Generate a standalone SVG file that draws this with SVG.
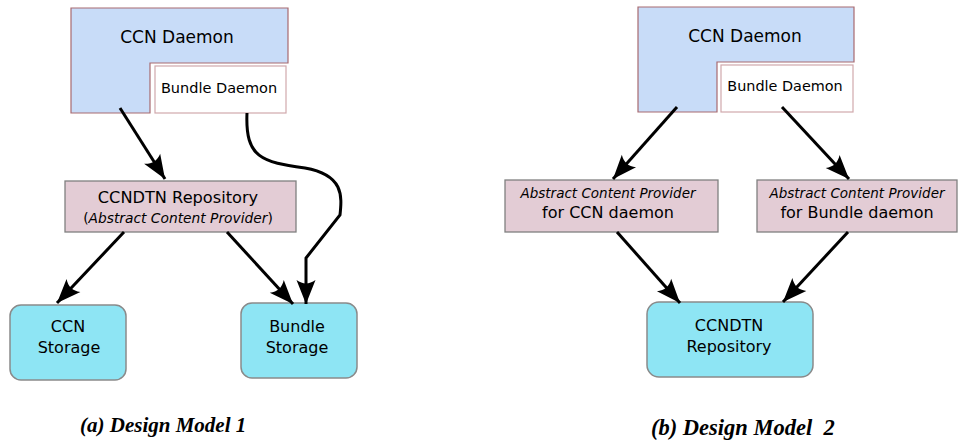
<svg xmlns="http://www.w3.org/2000/svg" width="959" height="445" viewBox="0 0 959 445">
<style>
.daemon{fill:#c8dcf8;stroke:#a86a70;stroke-width:1.2}
.bundle{fill:#ffffff;stroke:#d0a8ac;stroke-width:1.2}
.prov{fill:#e3ccd5;stroke:#808080;stroke-width:1.3}
.store{fill:#8ee5f4;stroke:#8a8a8a;stroke-width:1.5}
text{font-family:"DejaVu Sans",sans-serif;fill:#000;text-anchor:middle}
.cap{font-family:"Liberation Serif",serif;font-weight:bold;font-style:italic;font-size:21px;text-anchor:start;white-space:pre}
.it{font-style:italic}
.conn path{fill:none;stroke:#000;stroke-width:3;marker-end:url(#ah)}
</style>
<defs>
<marker id="ah" markerUnits="userSpaceOnUse" markerWidth="30" markerHeight="30" viewBox="-27 -13 30 26" refX="0" refY="0" orient="auto" overflow="visible">
<path d="M0,0 L-24,-9.5 C-19.5,-3 -19.5,3 -24,9.5 Z" fill="#000"/>
</marker>
</defs>
<g id="a-ccn-daemon"><polygon class="daemon" points="71,8 288,8 288,63 150,63 150,113 71,113"/><text x="177" y="43" font-size="17">CCN Daemon</text></g>
<g id="a-bundle-daemon"><rect class="bundle" x="155" y="66" width="131" height="47"/><text x="219" y="93" font-size="14.5">Bundle Daemon</text></g>
<g id="a-repo"><rect class="prov" x="65" y="181" width="231" height="51"/><text x="178" y="203" font-size="16.2">CCNDTN Repository</text><text x="178" y="223" font-size="13.8">(<tspan class="it">Abstract Content Provider</tspan>)</text></g>
<g id="a-ccn-storage"><rect class="store" x="10" y="305" width="116" height="75" rx="11"/><text x="68" y="332" font-size="16">CCN</text><text x="69" y="353" font-size="16">Storage</text></g>
<g id="a-bundle-storage"><rect class="store" x="241" y="303" width="116" height="75" rx="11"/><text x="297" y="332" font-size="16">Bundle</text><text x="297" y="353" font-size="16">Storage</text></g>
<g id="b-ccn-daemon"><polygon class="daemon" points="638,7 854,7 854,62 717,62 717,112 638,112"/><text x="745" y="42" font-size="17">CCN Daemon</text></g>
<g id="b-bundle-daemon"><rect class="bundle" x="721" y="65" width="132" height="47"/><text x="785" y="91" font-size="14.4">Bundle Daemon</text></g>
<g id="b-prov-ccn"><rect class="prov" x="505" y="180" width="213" height="52"/><text x="608" y="198" font-size="13.5" class="it">Abstract Content Provider</text><text x="608" y="218" font-size="16">for CCN daemon</text></g>
<g id="b-prov-bundle"><rect class="prov" x="757" y="180" width="200" height="52"/><text x="857" y="198" font-size="13.5" class="it">Abstract Content Provider</text><text x="857" y="218" font-size="16">for Bundle daemon</text></g>
<g id="b-repo"><rect class="store" x="647" y="302" width="166" height="75" rx="12"/><text x="729" y="331" font-size="16">CCNDTN</text><text x="729" y="352" font-size="16">Repository</text></g>
<g class="conn" id="connectors">
<path d="M120,108 L165,179"/>
<path d="M124,232 L57,303"/>
<path d="M227,232 L293,304"/>
<path d="M247,113 C245,158 262,162 305,168 C344,175 342,196 340,215 L306,258 L306,304"/>
<path d="M677,107 L613,179"/>
<path d="M782,107 L849,179"/>
<path d="M617,232 L680,303"/>
<path d="M848,232 L783,302"/>
</g>
<text class="cap" x="80" y="432">(a) Design Model 1</text>
<text class="cap" x="651" y="435" font-size="22.5" style="font-size:22.5px" xml:space="preserve">(b) Design Model  2</text>
</svg>
